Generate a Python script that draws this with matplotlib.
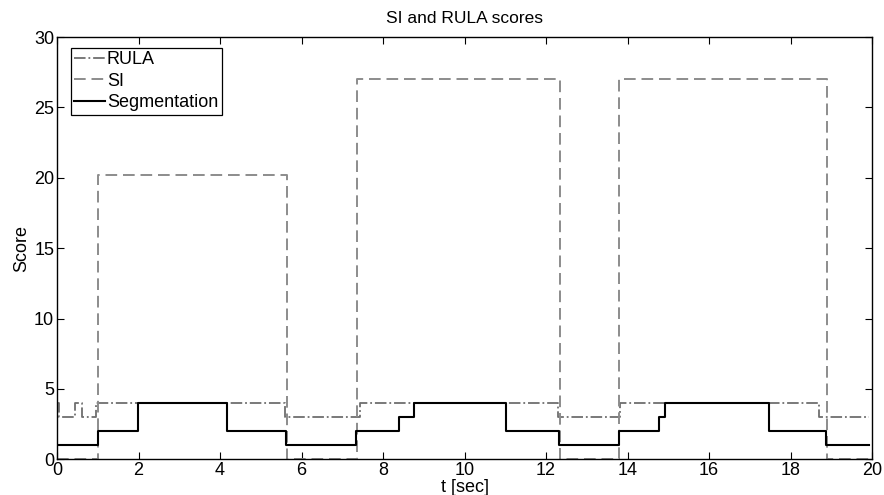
import matplotlib
matplotlib.use("Agg")
import matplotlib.pyplot as plt
import numpy as np

# step data (time in sec, value held until next time)
seg_t = [0, 1.01, 1.98, 4.18, 5.62, 7.34, 8.39, 8.77, 11.02, 12.33, 13.80, 14.78, 14.92, 17.46, 18.87, 19.93]
seg_v = [1, 2, 4, 2, 1, 2, 3, 4, 2, 1, 2, 3, 4, 2, 1, 1]

rula_t = [0, 0.05, 0.44, 0.62, 0.95, 5.60, 7.44, 12.30, 13.82, 18.71, 19.93]
rula_v = [4, 3, 4, 3, 4, 3, 4, 3, 4, 3, 3]

si_t = [0, 1.01, 5.65, 7.35, 12.34, 13.80, 18.89, 20]
si_v = [0, 20.2, 0, 27, 0, 27, 0, 0]

plt.rcParams['font.family'] = ['Liberation Sans', 'DejaVu Sans']
plt.rcParams['font.size'] = 13

fig = plt.figure(figsize=(8.84, 4.95), dpi=100)
ax = fig.add_axes([0.0645, 0.072, 0.922, 0.853])

ax.step(rula_t, rula_v, where='post', color='#6e6e6e', lw=1.3, ls='-.', label='RULA')
ax.step(si_t, si_v, where='post', color='#8c8c8c', lw=1.4, ls=(0, (6, 3)), label='SI')
ax.step(seg_t, seg_v, where='post', color='black', lw=1.5, label='Segmentation')

ax.set_xlim(0, 20)
ax.set_ylim(0, 30)
ax.set_xticks(np.arange(0, 21, 2))
ax.set_yticks(np.arange(0, 31, 5))
ax.tick_params(direction='in', top=True, right=True, length=5, width=0.8)
ax.tick_params(axis='x', pad=2)
ax.tick_params(axis='y', pad=2)
for s in ax.spines.values():
    s.set_linewidth(1.0)

ax.set_title('SI and RULA scores', fontsize=12.5, pad=10)
ax.set_xlabel('t [sec]', labelpad=0)
ax.set_ylabel('Score', labelpad=3)

leg = ax.legend(loc='upper left', bbox_to_anchor=(0.017, 0.975), fancybox=False,
                edgecolor='black', framealpha=1, handlelength=1.7, handletextpad=0.1,
                borderpad=0.2, labelspacing=0.25, borderaxespad=0, fontsize=13)
leg.get_frame().set_linewidth(0.9)

fig.savefig('out.png', dpi=100)
